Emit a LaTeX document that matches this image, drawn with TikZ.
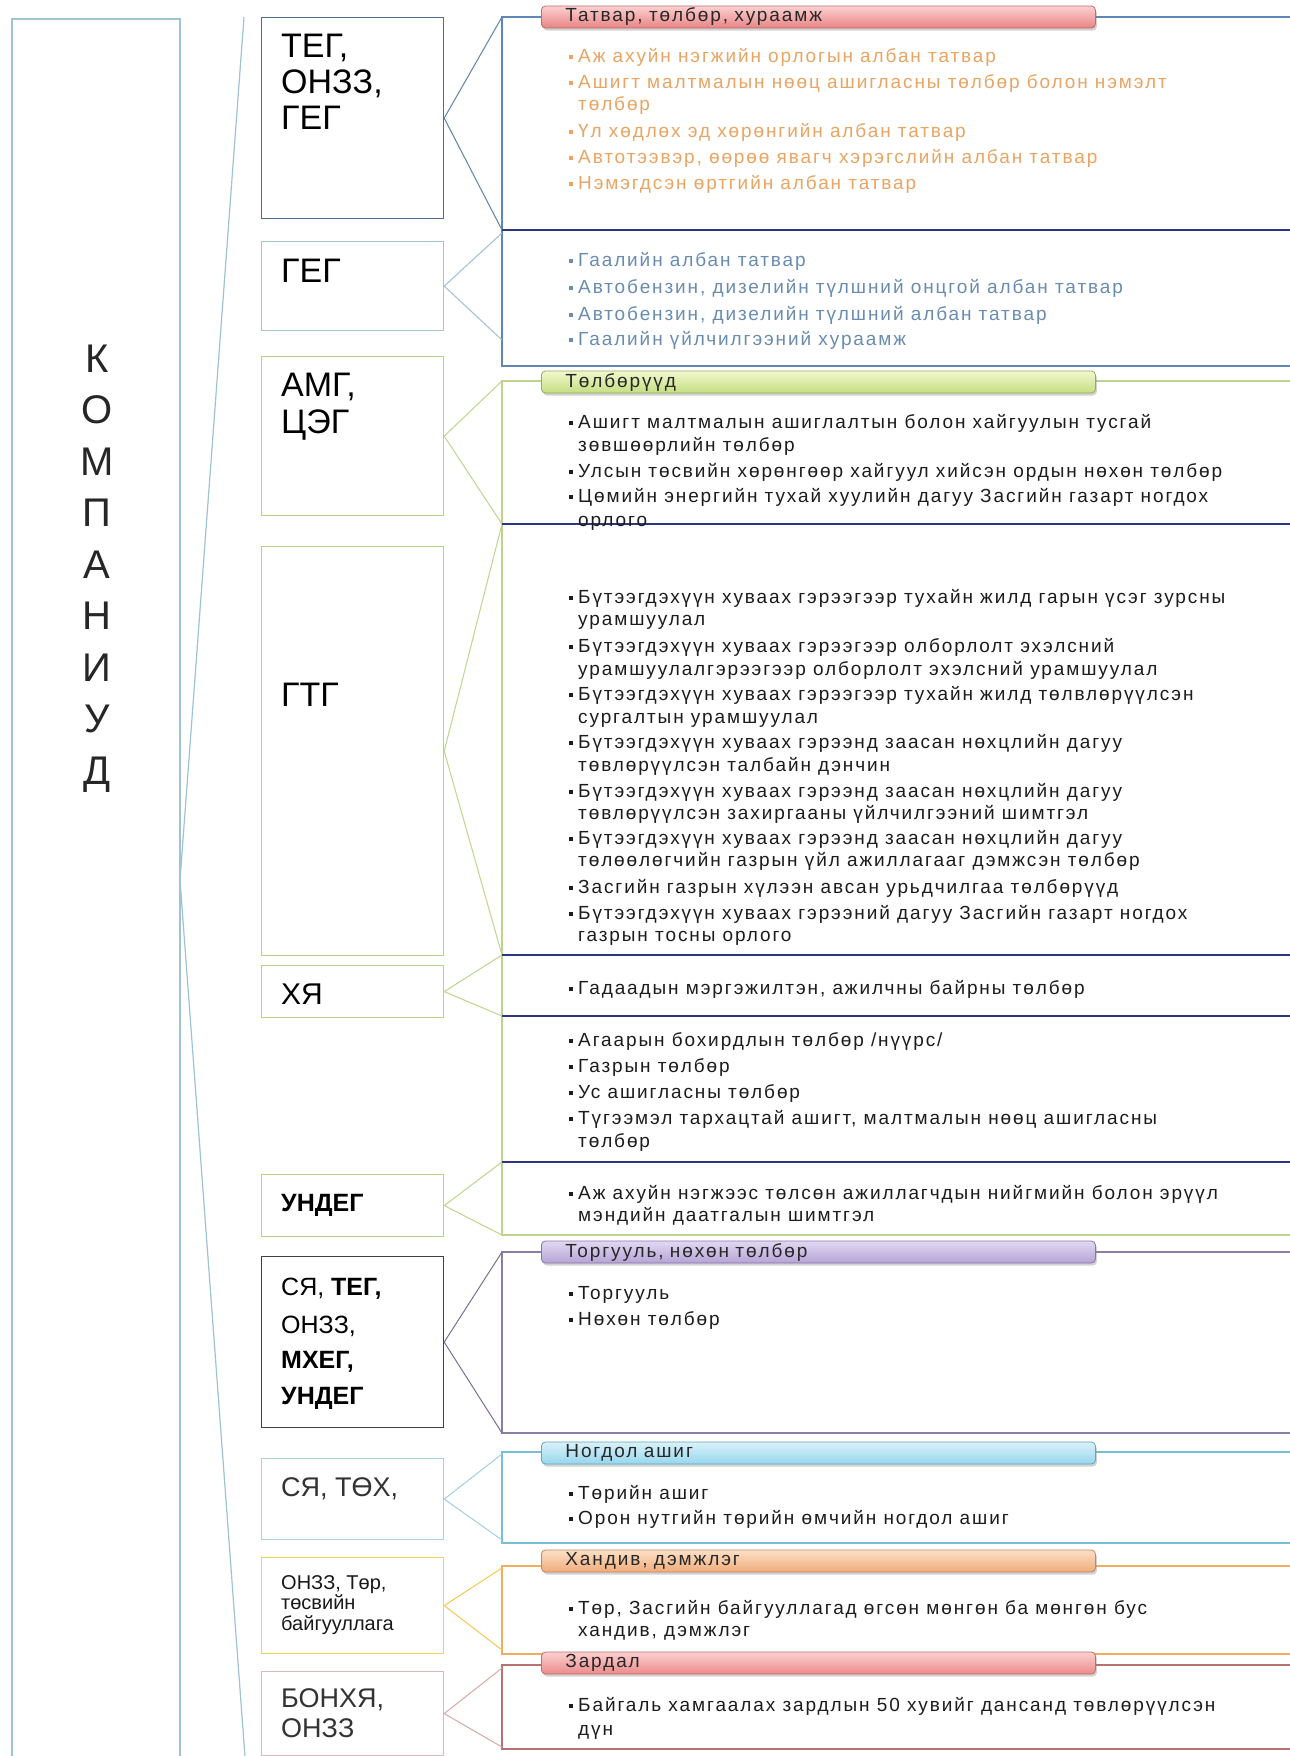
\documentclass[tikz,border=0pt]{standalone}
\usepackage{fontspec}
\setmainfont{Liberation Sans}
\usetikzlibrary{shadows}
\definecolor{kblue}{RGB}{160,195,212}
\definecolor{mA}{RGB}{79,110,145}
\definecolor{mB}{RGB}{165,195,215}
\definecolor{mG}{RGB}{186,210,130}
\definecolor{mK}{RGB}{64,64,64}
\definecolor{mC}{RGB}{165,210,225}
\definecolor{mY}{RGB}{240,212,90}
\definecolor{mP}{RGB}{225,182,182}
\definecolor{cA}{RGB}{95,130,172}
\definecolor{cB}{RGB}{160,192,215}
\definecolor{cG}{RGB}{190,214,140}
\definecolor{cK}{RGB}{125,110,145}
\definecolor{cC}{RGB}{160,208,224}
\definecolor{cY}{RGB}{245,200,80}
\definecolor{cP}{RGB}{215,168,172}
\definecolor{gA}{RGB}{95,135,182}
\definecolor{gG}{RGB}{190,212,140}
\definecolor{gK}{RGB}{140,125,168}
\definecolor{gC}{RGB}{120,190,212}
\definecolor{gY}{RGB}{240,172,95}
\definecolor{gP}{RGB}{185,112,112}
\definecolor{navy}{RGB}{45,55,125}
\definecolor{otxt}{RGB}{232,165,100}
\definecolor{btxt}{RGB}{105,140,176}
\definecolor{dtxt}{RGB}{28,28,28}
\definecolor{ptxt}{RGB}{40,40,40}
\definecolor{p1t}{RGB}{252,208,208}\definecolor{p1b}{RGB}{232,132,132}\definecolor{p1d}{RGB}{190,110,110}
\definecolor{p2t}{RGB}{242,248,205}\definecolor{p2b}{RGB}{196,222,130}\definecolor{p2d}{RGB}{150,170,95}
\definecolor{p3t}{RGB}{226,216,242}\definecolor{p3b}{RGB}{180,164,214}\definecolor{p3d}{RGB}{135,118,170}
\definecolor{p4t}{RGB}{218,242,250}\definecolor{p4b}{RGB}{150,214,236}\definecolor{p4d}{RGB}{100,165,190}
\definecolor{p5t}{RGB}{252,224,198}\definecolor{p5b}{RGB}{240,172,122}\definecolor{p5d}{RGB}{195,135,95}
\definecolor{p6t}{RGB}{252,208,208}\definecolor{p6b}{RGB}{236,138,138}\definecolor{p6d}{RGB}{190,110,110}
\newcommand\itf{\fontsize{19}{23}\selectfont\addfontfeature{LetterSpace=10}}
\newcommand\sqb{\rule[3pt]{4pt}{4pt}\hspace{5pt}}
\begin{document}
\begin{tikzpicture}[x=1pt,y=-1pt,
  itm/.style={anchor=base west, inner sep=0pt, font=\itf, text=dtxt},
  mtxt/.style={anchor=base west, inner sep=0pt, font=\fontsize{34}{38}\selectfont, text=black},
  ktxt/.style={anchor=base, inner sep=0pt, font=\fontsize{40}{44}\selectfont, text=black!85},
  mbox/.style={draw, line width=1.2pt, anchor=north west, minimum width=182pt, inner sep=0pt},
  grp/.style={line width=1.2pt},
  div/.style={draw=navy, line width=1.6pt},
  conn/.style={line width=1pt},
  pill/.style={anchor=west, rounded corners=4pt, minimum height=22pt, text width=506pt,
    inner xsep=24pt, inner ysep=0pt, align=left, font=\itf, text=ptxt, line width=0.8pt,
    drop shadow={shadow xshift=1.5pt, shadow yshift=-2.5pt, opacity=0.35}}]
\useasboundingbox (0,0) rectangle (1290,1756);
\fill[white] (0,0) rectangle (1290,1756);
\clip (0,0) rectangle (1290,1756);

% left box
\draw[kblue, line width=1.2pt] (12,1770) -- (12,19) -- (180,19) -- (180,1770);
\coordinate (kA) at (180,880);
\coordinate (kT) at (244,17);
\coordinate (kB) at (246,1770);
\draw[kblue, line width=1.2pt] (kT) -- (kA) -- (kB);
\foreach \c/\yy [count=\i] in {К/372,О/423.5,М/475,П/526.5,А/578,Н/629.5,И/681,У/732.5,Д/784}
  \node[ktxt] (k\i) at (97,\yy) {\c};

% content groups
\draw[gA, grp] (1300,17) -- (502,17) -- (502,366) -- (1300,366);
\draw[div] (502,230) -- (1300,230);
\draw[gG, grp] (1300,381) -- (502,381) -- (502,1235) -- (1300,1235);
\draw[gK, grp] (1300,1252) -- (502,1252) -- (502,1433) -- (1300,1433);
\draw[gC, grp] (1300,1452) -- (502,1452) -- (502,1543) -- (1300,1543);
\draw[gY, grp] (1300,1566) -- (502,1566) -- (502,1654) -- (1300,1654);
\draw[gP, grp] (1300,1665) -- (502,1665) -- (502,1749) -- (1300,1749);

% anchor points of brackets
\coordinate (a1) at (502,17);   \coordinate (a2) at (502,230);
\coordinate (b1) at (502,233);  \coordinate (b2) at (502,340);
\coordinate (g1) at (502,381);  \coordinate (g2) at (502,524);
\coordinate (g3) at (502,955);  \coordinate (g4) at (502,1016);
\coordinate (g5) at (502,1162); \coordinate (g6) at (502,1235);
\coordinate (k1) at (502,1252); \coordinate (k2) at (502,1433);
\coordinate (c1) at (502,1454); \coordinate (c2) at (502,1540);
\coordinate (y1) at (502,1568); \coordinate (y2) at (502,1650);
\coordinate (q1) at (502,1668); \coordinate (q2) at (502,1747);

% middle boxes
\node[mbox, draw=mA, minimum height=201pt] (m1) at (261,17) {};
\node[mbox, draw=mB, minimum height=89pt] (m2) at (261,241) {};
\node[mbox, draw=mG, minimum height=159pt] (m3) at (261,356) {};
\node[mbox, draw=mG, minimum height=409pt] (m4) at (261,546) {};
\node[mbox, draw=mG, minimum height=52pt] (m5) at (261,965) {};
\node[mbox, draw=mG, minimum height=62pt] (m6) at (261,1174) {};
\node[mbox, draw=mK, minimum height=171pt] (m7) at (261,1256) {};
\node[mbox, draw=mC, minimum height=81pt] (m8) at (261,1458) {};
\node[mbox, draw=mY, minimum height=96pt] (m9) at (261,1557) {};
\node[mbox, draw=mP, minimum height=84pt] (m10) at (261,1671) {};

% connectors
\draw[cA, conn] (a1) -- (m1.east) -- (a2);
\draw[cB, conn] (b1) -- (m2.east) -- (b2);
\draw[cG, conn] (g1) -- (m3.east) -- (g2);
\draw[cG, conn] (g2) -- (m4.east) -- (g3);
\draw[cG, conn] (g3) -- (m5.east) -- (g4);
\draw[cG, conn] (g5) -- (m6.east) -- (g6);
\draw[cK, conn] (k1) -- (m7.east) -- (k2);
\draw[cC, conn] (c1) -- (m8.east) -- (c2);
\draw[cY, conn] (y1) -- (m9.east) -- (y2);
\draw[cP, conn] (q1) -- (m10.east) -- (q2);

% dividers in green group
\draw[div] (502,524) -- (1300,524);
\draw[div] (502,955) -- (1300,955);
\draw[div] (502,1016) -- (1300,1016);
\draw[div] (502,1162) -- (1300,1162);

% middle labels
\node[mtxt] (l1a) at (281,57) {ТЕГ,};
\node[mtxt] (l1b) at (281,93) {ОНЗЗ,};
\node[mtxt] (l1c) at (281,129) {ГЕГ};
\node[mtxt] (l2) at (281,282) {ГЕГ};
\node[mtxt] (l3a) at (281,396) {АМГ,};
\node[mtxt] (l3b) at (281,433) {ЦЭГ};
\node[mtxt] (l4) at (281,706) {ГТГ};
\node[mtxt, font=\fontsize{30}{34}\selectfont] (l5) at (281,1004) {ХЯ};
\node[mtxt, font=\fontsize{25}{28}\selectfont\bfseries] (l6) at (281,1211) {УНДЕГ};
\node[mtxt, font=\fontsize{25}{28}\selectfont] (l7a) at (281,1295) {СЯ, \textbf{ТЕГ,}};
\node[mtxt, font=\fontsize{25}{28}\selectfont] (l7b) at (281,1333) {ОНЗЗ,};
\node[mtxt, font=\fontsize{25}{28}\selectfont\bfseries] (l7c) at (281,1368) {МХЕГ,};
\node[mtxt, font=\fontsize{25}{28}\selectfont\bfseries] (l7d) at (281,1404) {УНДЕГ};
\node[mtxt, font=\fontsize{27}{30}\selectfont, text=black!80] (l8) at (281,1496) {СЯ, ТӨХ,};
\node[mtxt, font=\fontsize{20}{22}\selectfont, text=black!90] (l9a) at (281,1589) {ОНЗЗ, Төр,};
\node[mtxt, font=\fontsize{20}{22}\selectfont, text=black!90] (l9b) at (281,1609) {төсвийн};
\node[mtxt, font=\fontsize{20}{22}\selectfont, text=black!90] (l9c) at (281,1630) {байгууллага};
\node[mtxt, font=\fontsize{27}{30}\selectfont, text=black!80] (l10a) at (281,1707) {БОНХЯ,};
\node[mtxt, font=\fontsize{27}{30}\selectfont, text=black!80] (l10b) at (281,1737) {ОНЗЗ};

% pills
\node[pill, top color=p1t, bottom color=p1b, draw=p1d] (p1) at (541,17) {Татвар, төлбөр, хураамж};
\node[pill, top color=p2t, bottom color=p2b, draw=p2d] (p2) at (541,382) {Төлбөрүүд};
\node[pill, top color=p3t, bottom color=p3b, draw=p3d] (p3) at (541,1252) {Торгууль, нөхөн төлбөр};
\node[pill, top color=p4t, bottom color=p4b, draw=p4d] (p4) at (541,1453) {Ногдол ашиг};
\node[pill, top color=p5t, bottom color=p5b, draw=p5d] (p5) at (541,1561) {Хандив, дэмжлэг};
\node[pill, top color=p6t, bottom color=p6b, draw=p6d] (p6) at (541,1663) {Зардал};

% C1 items (orange)
\node[itm, text=otxt] (t1) at (569,62) {\sqb Аж ахуйн нэгжийн орлогын албан татвар};
\node[itm, text=otxt] (t2) at (569,88) {\sqb Ашигт малтмалын нөөц ашигласны төлбөр болон нэмэлт};
\node[itm, text=otxt] (t2b) at (578,110) {төлбөр};
\node[itm, text=otxt] (t3) at (569,137) {\sqb Үл хөдлөх эд хөрөнгийн  албан татвар};
\node[itm, text=otxt] (t4) at (569,163) {\sqb Автотээвэр, өөрөө явагч хэрэгслийн албан татвар};
\node[itm, text=otxt] (t5) at (569,189) {\sqb Нэмэгдсэн өртгийн албан татвар};
% C2 items (blue)
\node[itm, text=btxt] (u1) at (569,266) {\sqb Гаалийн албан татвар};
\node[itm, text=btxt] (u2) at (569,293) {\sqb Автобензин, дизелийн түлшний онцгой албан татвар};
\node[itm, text=btxt] (u3) at (569,320) {\sqb Автобензин, дизелийн түлшний албан татвар};
\node[itm, text=btxt] (u4) at (569,345) {\sqb Гаалийн үйлчилгээний  хураамж};
% C3
\node[itm] (v1) at (569,428) {\sqb Ашигт малтмалын ашиглалтын болон хайгуулын тусгай};
\node[itm] (v1b) at (578,451) {зөвшөөрлийн төлбөр};
\node[itm] (v2) at (569,477) {\sqb Улсын төсвийн хөрөнгөөр  хайгуул хийсэн ордын нөхөн төлбөр};
\node[itm] (v3) at (569,502) {\sqb Цөмийн энергийн тухай хуулийн дагуу Засгийн газарт ногдох};
\node[itm] (v3b) at (578,526) {орлого};
% C4
\node[itm] (w1) at (569,603) {\sqb Бүтээгдэхүүн хуваах гэрээгээр тухайн жилд гарын үсэг зурсны};
\node[itm] (w1b) at (578,625) {урамшуулал};
\node[itm] (w2) at (569,652) {\sqb Бүтээгдэхүүн хуваах гэрээгээр олборлолт эхэлсний};
\node[itm] (w2b) at (578,675) {урамшуулалгэрээгээр олборлолт эхэлсний урамшуулал};
\node[itm] (w3) at (569,700) {\sqb Бүтээгдэхүүн хуваах гэрээгээр тухайн жилд төлвлөрүүлсэн};
\node[itm] (w3b) at (578,723) {сургалтын урамшуулал};
\node[itm] (w4) at (569,748) {\sqb Бүтээгдэхүүн хуваах гэрээнд заасан нөхцлийн дагуу};
\node[itm] (w4b) at (578,771) {төвлөрүүлсэн талбайн дэнчин};
\node[itm] (w5) at (569,797) {\sqb Бүтээгдэхүүн хуваах гэрээнд заасан нөхцлийн дагуу};
\node[itm] (w5b) at (578,819) {төвлөрүүлсэн захиргааны үйлчилгээний шимтгэл};
\node[itm] (w6) at (569,844) {\sqb Бүтээгдэхүүн хуваах гэрээнд заасан нөхцлийн дагуу};
\node[itm] (w6b) at (578,866) {төлөөлөгчийн газрын үйл ажиллагааг дэмжсэн төлбөр};
\node[itm] (w7) at (569,893) {\sqb Засгийн газрын  хүлээн авсан урьдчилгаа төлбөрүүд};
\node[itm] (w8) at (569,919) {\sqb Бүтээгдэхүүн хуваах гэрээний дагуу Засгийн газарт ногдох};
\node[itm] (w8b) at (578,941) {газрын тосны орлого};
% C5
\node[itm] (x1) at (569,994) {\sqb Гадаадын мэргэжилтэн, ажилчны байрны төлбөр};
% C6
\node[itm] (y1t) at (569,1046) {\sqb Агаарын бохирдлын төлбөр /нүүрс/};
\node[itm] (y2t) at (569,1072) {\sqb Газрын төлбөр};
\node[itm] (y3t) at (569,1098) {\sqb Ус ашигласны төлбөр};
\node[itm] (y4t) at (569,1124) {\sqb Түгээмэл тархацтай ашигт, малтмалын нөөц ашигласны};
\node[itm] (y4b) at (578,1147) {төлбөр};
% C7
\node[itm] (z1) at (569,1199) {\sqb Аж ахуйн нэгжээс төлсөн ажиллагчдын нийгмийн болон эрүүл};
\node[itm] (z1b) at (578,1221) {мэндийн даатгалын шимтгэл};
% C8
\node[itm] (r1) at (569,1299) {\sqb Торгууль};
\node[itm] (r2) at (569,1325) {\sqb Нөхөн төлбөр};
% C9
\node[itm] (s1) at (569,1499) {\sqb Төрийн ашиг};
\node[itm] (s2) at (569,1524) {\sqb Орон нутгийн төрийн өмчийн ногдол ашиг};
% C10
\node[itm] (h1) at (569,1614) {\sqb Төр, Засгийн байгууллагад  өгсөн мөнгөн ба мөнгөн бус};
\node[itm] (h1b) at (578,1636) {хандив, дэмжлэг};
% C11
\node[itm] (e1) at (569,1711) {\sqb Байгаль хамгаалах зардлын 50 хувийг дансанд төвлөрүүлсэн};
\node[itm] (e1b) at (578,1735) {дүн};
\end{tikzpicture}
\end{document}
